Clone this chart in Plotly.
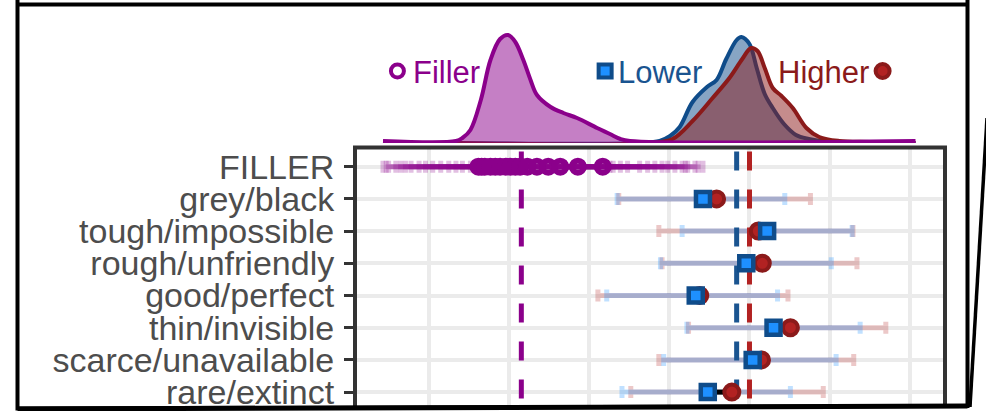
import plotly.graph_objects as go

W, H = 986, 411

# ---------------- data ----------------
categories = ["FILLER", "grey/black", "tough/impossible", "rough/unfriendly",
              "good/perfect", "thin/invisible", "scarce/unavailable", "rare/extinct"]

lower_mean = [4.42, 5.22, 4.96, 4.33, 5.30, 5.04, 4.48]
lower_lo   = [3.35, 4.16, 3.89, 3.22, 4.22, 3.93, 3.41]
lower_hi   = [5.44, 6.28, 6.02, 5.35, 6.38, 6.08, 5.51]

higher_mean = [4.59, 5.11, 5.16, 4.38, 5.51, 5.15, 4.78]
higher_lo   = [3.37, 3.87, 3.91, 3.11, 4.24, 3.87, 3.52]
higher_hi   = [5.76, 6.29, 6.34, 5.48, 6.70, 6.30, 5.92]

filler_mean = [1.62, 1.66, 1.70, 1.77, 1.83, 1.89, 1.96, 2.02, 2.08, 2.14, 2.23, 2.35, 2.49, 2.64, 2.86, 3.17]
filler_lo   = [0.43, 0.47, 0.50, 0.59, 0.65, 0.71, 0.78, 0.88, 0.96, 1.05, 1.15, 1.25, 1.34, 1.42, 1.52, 1.62]
filler_hi   = [3.26, 3.30, 3.39, 3.48, 3.63, 3.73, 3.82, 3.91, 3.98, 4.07, 4.16, 4.23, 4.32, 4.42, 4.36, 4.20]

filler_overall = 2.155
lower_overall = 4.84
higher_overall = 5.00

# densities (x value, density height)
dens_filler_x = [0.43, 1.34, 1.42, 1.52, 1.65, 1.77, 1.89, 1.99, 2.08, 2.18, 2.27, 2.35, 2.52, 2.68,
                 2.85, 3.10, 3.26, 3.39, 3.51, 7.07]
dens_filler_y = [0.02, 0.02, 0.05, 0.13, 0.43, 0.83, 1.04, 1.08, 1.01, 0.83, 0.63, 0.48, 0.36, 0.30,
                 0.25, 0.15, 0.09, 0.04, 0.02, 0.02]
dens_lower_x = [1.34, 3.63, 3.88, 4.01, 4.13, 4.29, 4.47, 4.59, 4.71, 4.84, 4.90, 5.00, 5.09, 5.19,
                5.29, 5.43, 5.58, 5.74, 5.99, 7.07]
dens_lower_y = [0.0, 0.0, 0.02, 0.07, 0.16, 0.41, 0.56, 0.63, 0.84, 1.03, 1.06, 0.99, 0.75, 0.49,
                0.35, 0.19, 0.08, 0.04, 0.01, 0.0]
dens_higher_x = [1.34, 3.76, 4.04, 4.29, 4.54, 4.75, 4.91, 5.02, 5.10, 5.19, 5.29, 5.40, 5.54, 5.71,
                 5.87, 6.12, 6.50, 7.07]
dens_higher_y = [0.0, 0.0, 0.04, 0.22, 0.45, 0.65, 0.84, 0.95, 0.92, 0.75, 0.55, 0.47, 0.35, 0.15,
                 0.06, 0.02, 0.01, 0.0]

grid_x = [1, 2, 3, 4, 5, 6, 7]

# ---------------- styles ----------------
PURPLE = "#8B008B"
BLUE_D = "#0F4C8A"
BLUE_F = "#1E90FF"
RED_D = "#8B1A1A"
RED_F = "#B22222"
FONT = "Liberation Sans, Arial, Helvetica, sans-serif"

def px(x):
    return x / W

def py(y):
    return 1 - y / H

rows = list(range(len(categories)))
item_rows = rows[1:]

fig = go.Figure()

# filler error bars
fig.add_trace(go.Scatter(
    x=filler_mean, y=[0] * len(filler_mean), mode="markers",
    marker=dict(size=1, color="rgba(0,0,0,0)"),
    error_x=dict(type="data", symmetric=False,
                 array=[h - m for h, m in zip(filler_hi, filler_mean)],
                 arrayminus=[m - l for m, l in zip(filler_mean, filler_lo)],
                 color="rgba(139,0,139,0.25)", thickness=5, width=6),
    hoverinfo="skip", showlegend=False))

# higher error bars
fig.add_trace(go.Scatter(
    x=higher_mean, y=item_rows, mode="markers",
    marker=dict(size=1, color="rgba(0,0,0,0)"),
    error_x=dict(type="data", symmetric=False,
                 array=[h - m for h, m in zip(higher_hi, higher_mean)],
                 arrayminus=[m - l for m, l in zip(higher_mean, higher_lo)],
                 color="rgba(178,34,34,0.25)", thickness=5, width=6),
    hoverinfo="skip", showlegend=False))

# lower error bars
fig.add_trace(go.Scatter(
    x=lower_mean, y=item_rows, mode="markers",
    marker=dict(size=1, color="rgba(0,0,0,0)"),
    error_x=dict(type="data", symmetric=False,
                 array=[h - m for h, m in zip(lower_hi, lower_mean)],
                 arrayminus=[m - l for m, l in zip(lower_mean, lower_lo)],
                 color="rgba(30,144,255,0.28)", thickness=5, width=6),
    hoverinfo="skip", showlegend=False))

# connectors
cx, cy = [], []
for r, a, b in zip(item_rows, lower_mean, higher_mean):
    cx += [a, b, None]
    cy += [r, r, None]
fig.add_trace(go.Scatter(x=cx, y=cy, mode="lines", line=dict(color="black", width=5),
                         hoverinfo="skip", showlegend=False))

# dashed overall means
y_top, y_bot = -0.47, 7.6
for v, col in [(filler_overall, PURPLE), (lower_overall, "#1A5490"), (higher_overall, RED_F)]:
    fig.add_trace(go.Scatter(x=[v, v], y=[y_top, y_bot], mode="lines",
                             line=dict(color=col, width=5, dash="19px,19px"),
                             hoverinfo="skip", showlegend=False))

# filler points
fig.add_trace(go.Scatter(
    x=filler_mean, y=[0] * len(filler_mean), mode="markers",
    marker=dict(symbol="circle-open", size=12, color=PURPLE, line=dict(width=6, color=PURPLE)),
    hoverinfo="skip", showlegend=False))

# higher points
fig.add_trace(go.Scatter(
    x=higher_mean, y=item_rows, mode="markers",
    marker=dict(symbol="circle", size=15, color=RED_F, line=dict(width=4, color=RED_D)),
    hoverinfo="skip", showlegend=False))

# lower points
fig.add_trace(go.Scatter(
    x=lower_mean, y=item_rows, mode="markers",
    marker=dict(symbol="square", size=14, color=BLUE_F, line=dict(width=4.5, color=BLUE_D)),
    hoverinfo="skip", showlegend=False))

# densities
fig.add_trace(go.Scatter(x=dens_lower_x, y=dens_lower_y, xaxis="x2", yaxis="y2",
                         mode="lines", line=dict(color=BLUE_D, width=4, shape="spline"),
                         fill="tozeroy", fillcolor="rgba(15,76,138,0.5)",
                         hoverinfo="skip", showlegend=False))
fig.add_trace(go.Scatter(x=dens_higher_x, y=dens_higher_y, xaxis="x2", yaxis="y2",
                         mode="lines", line=dict(color=RED_D, width=4, shape="spline"),
                         fill="tozeroy", fillcolor="rgba(139,26,26,0.5)",
                         hoverinfo="skip", showlegend=False))
fig.add_trace(go.Scatter(x=dens_filler_x, y=dens_filler_y, xaxis="x2", yaxis="y2",
                         mode="lines", line=dict(color=PURPLE, width=4, shape="spline"),
                         fill="tozeroy", fillcolor="rgba(139,0,139,0.5)",
                         hoverinfo="skip", showlegend=False))

# legend markers (in density panel coords)
fig.add_trace(go.Scatter(x=[0.61], y=[0.72], xaxis="x2", yaxis="y2", mode="markers",
                         marker=dict(symbol="circle-open", size=13, color=PURPLE,
                                     line=dict(width=4, color=PURPLE)),
                         hoverinfo="skip", showlegend=False))
fig.add_trace(go.Scatter(x=[3.20], y=[0.72], xaxis="x2", yaxis="y2", mode="markers",
                         marker=dict(symbol="square", size=13, color=BLUE_F,
                                     line=dict(width=4, color=BLUE_D)),
                         hoverinfo="skip", showlegend=False))
fig.add_trace(go.Scatter(x=[6.66], y=[0.72], xaxis="x2", yaxis="y2", mode="markers",
                         marker=dict(symbol="circle", size=14, color=RED_F,
                                     line=dict(width=4, color=RED_D)),
                         hoverinfo="skip", showlegend=False))

x_range = [0.081, 7.438]
x_dom = [px(355), px(945)]

fig.update_layout(
    width=W, height=H,
    margin=dict(l=0, r=0, t=0, b=0),
    paper_bgcolor="white", plot_bgcolor="white",
    font=dict(family=FONT),
    xaxis=dict(domain=x_dom, range=x_range, tickvals=grid_x, showticklabels=False,
               ticks="", showgrid=True, gridcolor="#EBEBEB", gridwidth=4,
               zeroline=False, showline=False, anchor="y"),
    yaxis=dict(domain=[0, py(147.5)], range=[7.587, -0.596], tickvals=rows,
               ticktext=categories, showgrid=True, gridcolor="#EBEBEB", gridwidth=4,
               zeroline=False, showline=False, ticks="outside", ticklen=10, tickwidth=3,
               tickcolor="#333333", ticklabelstandoff=3,
               tickfont=dict(size=34, color="#4D4D4D", family=FONT), anchor="x"),
    xaxis2=dict(domain=x_dom, matches="x", visible=False, anchor="y2"),
    yaxis2=dict(domain=[py(143), 1], range=[0, 1.43], visible=False, anchor="x2"),
)

annotations = [
    dict(text="Filler", x=px(411), y=py(72), xanchor="left", yanchor="middle",
         font=dict(size=31, color=PURPLE)),
    dict(text="Lower", x=px(616), y=py(72), xanchor="left", yanchor="middle",
         font=dict(size=31, color="#1A5490")),
    dict(text="Higher", x=px(871), y=py(72), xanchor="right", yanchor="middle",
         font=dict(size=31, color=RED_D)),
]
for a in annotations:
    a.update(xref="paper", yref="paper", showarrow=False)
fig.update_layout(annotations=annotations)

shapes = [
    # main panel border
    dict(type="rect", xref="paper", yref="paper", x0=px(355), x1=px(945), y0=py(430), y1=py(147.5),
         line=dict(color="#333333", width=4), layer="above"),
    # white cover below frame
    dict(type="path", xref="paper", yref="paper",
         path=f"M 0,{py(409)} L 1,{py(406)} L 1,-0.01 L 0,-0.01 Z",
         fillcolor="white", line=dict(width=0), layer="above"),
    # frame
    dict(type="path", xref="paper", yref="paper",
         path=(f"M {px(17.5)},{py(0)} L {px(17.5)},{py(408.5)} L {px(967.5)},{py(406)} "
               f"L {px(967.5)},{py(0)}"),
         line=dict(color="black", width=4), layer="above"),
    dict(type="line", xref="paper", yref="paper", x0=px(17.5), x1=px(967.5), y0=py(4.5), y1=py(4.5),
         line=dict(color="black", width=4), layer="above"),
    dict(type="line", xref="paper", yref="paper", x0=px(17.5), x1=px(967.5), y0=py(409), y1=py(406),
         line=dict(color="black", width=5), layer="above"),
    # slanted connector
    dict(type="line", xref="paper", yref="paper", x0=px(987), x1=px(970), y0=py(118), y1=py(407),
         line=dict(color="black", width=3.5), layer="above"),
]
fig.update_layout(shapes=shapes)

fig.write_html("out.html")
